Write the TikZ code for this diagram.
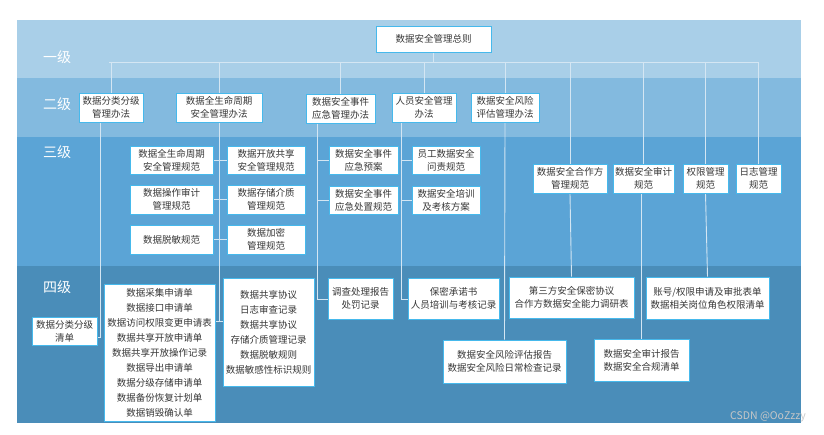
\documentclass[tikz,border=0pt]{standalone}
\usepackage{fontspec}
\setmainfont{Noto Sans CJK SC}
\definecolor{bandA}{RGB}{169,207,232}
\definecolor{bandB}{RGB}{131,186,223}
\definecolor{bandC}{RGB}{91,164,214}
\definecolor{bandD}{RGB}{74,141,185}
\definecolor{boxline}{RGB}{70,185,236}
\definecolor{connc}{RGB}{212,230,243}
\definecolor{txt}{RGB}{55,55,55}
\pgfdeclarelayer{bg}
\pgfdeclarelayer{mid}
\pgfsetlayers{bg,mid,main}
\tikzset{
  box/.style={draw=boxline, line width=0.9pt, fill=white, text=txt, align=center,
    inner sep=0pt, font=\fontsize{9.5}{13}\selectfont},
  listbox/.style={box, font=\fontsize{9.5}{15}\selectfont},
  conn/.style={draw=connc, line width=0.9pt},
  lvl/.style={text=white, font=\fontsize{14}{16}\selectfont},
  wm/.style={text=white!78!black, font=\fontsize{10.5}{12}\selectfont}
}
\begin{document}
\begin{tikzpicture}[x=1pt,y=-1pt]
\useasboundingbox (0,0) rectangle (824,434);
% bands
\begin{pgfonlayer}{bg}
\fill[bandA] (17,20) rectangle (801,78);
\fill[bandB] (17,78) rectangle (801,137);
\fill[bandC] (17,137) rectangle (801,266);
\fill[bandD] (17,266) rectangle (801,423);
\end{pgfonlayer}
% level labels
\node[lvl] (l1) at (57,57) {一级};
\node[lvl] (l2) at (57,104) {二级};
\node[lvl] (l3) at (57,152) {三级};
\node[lvl] (l4) at (57,287) {四级};
% level 1
\node[box, minimum width=115pt, minimum height=26pt] (top) at (433.5,39) {数据安全管理总则};
% level 2
\node[box, minimum width=64pt, minimum height=29pt] (a1) at (111,107.5) {数据分类分级\\管理办法};
\node[box, minimum width=86pt, minimum height=29pt] (a2) at (219,107.5) {数据全生命周期\\安全管理办法};
\node[box, minimum width=69pt, minimum height=29pt] (a3) at (340.5,108.5) {数据安全事件\\应急管理办法};
\node[box, minimum width=64pt, minimum height=29pt] (a4) at (424,107.5) {人员安全管理\\办法};
\node[box, minimum width=68pt, minimum height=29pt] (a5) at (505,107.5) {数据安全风险\\评估管理办法};
% level 3
\node[box, minimum width=83pt, minimum height=28pt] (b1) at (171.5,160) {数据全生命周期\\安全管理规范};
\node[box, minimum width=78pt, minimum height=28pt] (b2) at (266,160) {数据开放共享\\安全管理规范};
\node[box, minimum width=83pt, minimum height=29pt] (b3) at (171.5,199.5) {数据操作审计\\管理规范};
\node[box, minimum width=78pt, minimum height=29pt] (b4) at (266,199.5) {数据存储介质\\管理规范};
\node[box, minimum width=83pt, minimum height=29pt] (b5) at (171.5,239.5) {数据脱敏规范};
\node[box, minimum width=78pt, minimum height=29pt] (b6) at (266,239.5) {数据加密\\管理规范};
\node[box, minimum width=69pt, minimum height=28pt] (b7) at (363.5,160) {数据安全事件\\应急预案};
\node[box, minimum width=69pt, minimum height=28pt] (b8) at (363.5,200) {数据安全事件\\应急处置规范};
\node[box, minimum width=68pt, minimum height=28pt] (b9) at (446,160) {员工数据安全\\问责规范};
\node[box, minimum width=68pt, minimum height=28pt] (b10) at (446,200) {数据安全培训\\及考核方案};
\node[box, minimum width=74pt, minimum height=29pt] (b11) at (570,178.5) {数据安全合作方\\管理规范};
\node[box, minimum width=61pt, minimum height=29pt] (b12) at (643.5,178.5) {数据安全审计\\规范};
\node[box, minimum width=45pt, minimum height=29pt] (b13) at (705.5,178.5) {权限管理\\规范};
\node[box, minimum width=45pt, minimum height=29pt] (b14) at (758.5,178.5) {日志管理\\规范};
% level 4
\node[box, minimum width=65pt, minimum height=28pt] (c1) at (64.5,331) {数据分类分级\\清单};
\node[listbox, minimum width=111pt, minimum height=137pt] (c2) at (159.5,352.5) {数据采集申请单\\数据接口申请单\\数据访问权限变更申请表\\数据共享开放申请单\\数据共享开放操作记录\\数据导出申请单\\数据分级存储申请单\\数据备份恢复计划单\\数据销毁确认单};
\node[listbox, minimum width=91pt, minimum height=108pt] (c3) at (268.5,332) {数据共享协议\\日志审查记录\\数据共享协议\\存储介质管理记录\\数据脱敏规则\\数据敏感性标识规则};
\node[box, minimum width=65pt, minimum height=41pt] (c4) at (360.5,298.5) {调查处理报告\\处罚记录};
\node[box, minimum width=91pt, minimum height=41pt] (c5) at (453.5,298.5) {保密承诺书\\人员培训与考核记录};
\node[box, minimum width=125pt, minimum height=41pt] (c6) at (571.5,297.5) {第三方安全保密协议\\合作方数据安全能力调研表};
\node[box, minimum width=123pt, minimum height=42pt] (c7) at (707.5,298) {账号/权限申请及审批表单\\数据相关岗位角色权限清单};
\node[box, minimum width=123pt, minimum height=43pt] (c8) at (504.5,361.5) {数据安全风险评估报告\\数据安全风险日常检查记录};
\node[box, minimum width=95pt, minimum height=42pt] (c9) at (641.5,360) {数据安全审计报告\\数据安全合规清单};
% watermark
\node[wm] (wmk) at (768,417) {CSDN @OoZzzy};
% connectors
\coordinate (hl) at (109,62);
\coordinate (hr) at (759,62);
\coordinate (j1) at (100,337);
\coordinate (j2) at (219,321);
\coordinate (j3) at (317,299);
\coordinate (j4) at (401,299);
\begin{pgfonlayer}{mid}
\draw[conn] (top.south) -- (top.south |- hl);
\draw[conn] (hl) -- (hr);
\draw[conn] (a1.north |- hl) -- (a1.north);
\draw[conn] (a2.north |- hl) -- (a2.north);
\draw[conn] (a3.north |- hl) -- (a3.north);
\draw[conn] (a4.north |- hl) -- (a4.north);
\draw[conn] (a5.north |- hl) -- (a5.north);
\draw[conn] (b11.north |- hl) -- (b11.north);
\draw[conn] (b12.north |- hl) -- (b12.north);
\draw[conn] (b13.north |- hl) -- (b13.north);
\draw[conn] (b14.north |- hl) -- (b14.north);
% branch a1
\draw[conn] (a1.south -| j1) -- (j1) -- (c1.east |- j1);
% branch a2
\draw[conn] (a2.south) -- (j2);
\draw[conn] (b1.east) -- (b2.west);
\draw[conn] (b3.east) -- (b4.west);
\draw[conn] (b5.east) -- (b6.west);
\draw[conn] (c2.east |- j2) -- (c3.west |- j2);
% branch a3
\draw[conn] (a3.south -| j3) -- (j3) -- (c4.west |- j3);
\draw[conn] (b7.west -| j3) -- (b7.west);
\draw[conn] (b8.west -| j3) -- (b8.west);
% branch a4
\draw[conn] (a4.south -| j4) -- (j4) -- (c5.west |- j4);
\draw[conn] (b9.west -| j4) -- (b9.west);
\draw[conn] (b10.west -| j4) -- (b10.west);
% branch a5 and right column
\draw[conn] (a5.south) -- (c8.north);
\draw[conn] (b11.south) -- (c6.north);
\draw[conn] (b12.south -| c9.north) -- (c9.north);
\draw[conn] (b13.south) -- (c7.north);
\end{pgfonlayer}
\end{tikzpicture}
\end{document}
